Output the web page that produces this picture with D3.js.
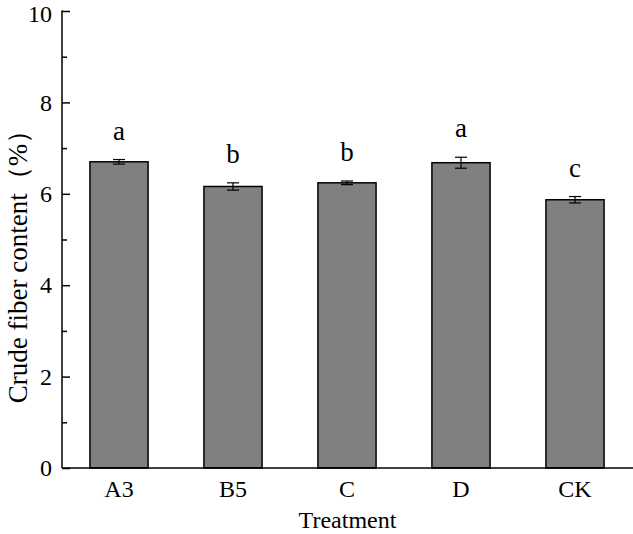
<!DOCTYPE html>
<html><head><meta charset="utf-8">
<script src="https://cdn.jsdelivr.net/npm/d3@7"></script>
<style>body{margin:0;background:#fff;} text{font-family:"Liberation Serif","Times New Roman",serif;}</style>
</head><body>
<svg id="c" width="633" height="534"></svg>
<script>
const categories = ["A3","B5","C","D","CK"];
const values = [6.70, 6.16, 6.24, 6.68, 5.87];
const errors = [0.05, 0.08, 0.04, 0.12, 0.07];
const letters = ["a","b","b","a","c"];
const yTicks = [0,2,4,6,8,10];
const yMinorTicks = [1,3,5,7,9];

const svg = d3.select("#c");
const m = {left:62, right:1, top:11, bottom:66};
const W = 633, H = 534;
const x = d3.scaleBand().domain(categories).range([m.left, W - m.right]).paddingInner(0.49).paddingOuter(0.245);
const y = d3.scaleLinear().domain([0,10]).range([H - m.bottom, m.top]);

const g = svg.append("g");
g.selectAll("rect.bar").data(values).join("rect")
  .attr("x",(d,i)=>x(categories[i])).attr("y",d=>y(d))
  .attr("width",x.bandwidth()).attr("height",d=>y(0)-y(d))
  .attr("fill","#808080").attr("stroke","#000").attr("stroke-width",1.5);

const cap = 6;
values.forEach((v,i)=>{
  const cx = x(categories[i]) + x.bandwidth()/2;
  g.append("line").attr("x1",cx).attr("x2",cx).attr("y1",y(v+errors[i])).attr("y2",y(v-errors[i])).attr("stroke","#000").attr("stroke-width",1.2);
  [v+errors[i], v-errors[i]].forEach(e=>g.append("line").attr("x1",cx-cap).attr("x2",cx+cap).attr("y1",y(e)).attr("y2",y(e)).attr("stroke","#000").attr("stroke-width",1.2));
  g.append("text").attr("x",cx).attr("y",y(v+errors[i])-20).attr("text-anchor","middle")
    .attr("font-size",27).text(letters[i]);
});

// y axis
const ya = svg.append("g").attr("transform",`translate(${m.left},0)`)
  .call(d3.axisLeft(y).tickValues(yTicks).tickSize(-8).tickPadding(10).tickFormat(d3.format("d")));
ya.select(".domain").attr("stroke","#000").attr("stroke-width",1.5).attr("d",`M-0.5,${y(10)}H0V${y(0)}`);
ya.selectAll(".tick line").attr("stroke-width",1.5);
ya.selectAll(".tick text").attr("font-size",24).attr("font-family","Liberation Serif").attr("fill","#000")
  .attr("dy",d=>d===10?"0.45em":"0.32em");
const yminor = svg.append("g").attr("transform",`translate(${m.left},0)`)
  .call(d3.axisLeft(y).tickValues(yMinorTicks).tickSize(-5).tickFormat(""));
yminor.select(".domain").remove();
yminor.selectAll(".tick line").attr("stroke-width",1.5);

// x axis
const xa = svg.append("g").attr("transform",`translate(0,${y(0)})`)
  .call(d3.axisBottom(x).tickSize(0).tickPadding(12));
xa.select(".domain").attr("stroke","#000").attr("stroke-width",1.5).attr("d",`M${m.left},0H${W}`);
xa.selectAll(".tick text").attr("font-size",24).attr("font-family","Liberation Serif").attr("fill","#000");

svg.append("text").attr("x",(m.left+W)/2).attr("y",528).attr("text-anchor","middle").attr("font-size",24).text("Treatment");
svg.append("text").attr("transform",`translate(27,260) rotate(-90)`).attr("text-anchor","middle").attr("font-size",27).text("Crude fiber content（%）");
</script>
</body></html>
